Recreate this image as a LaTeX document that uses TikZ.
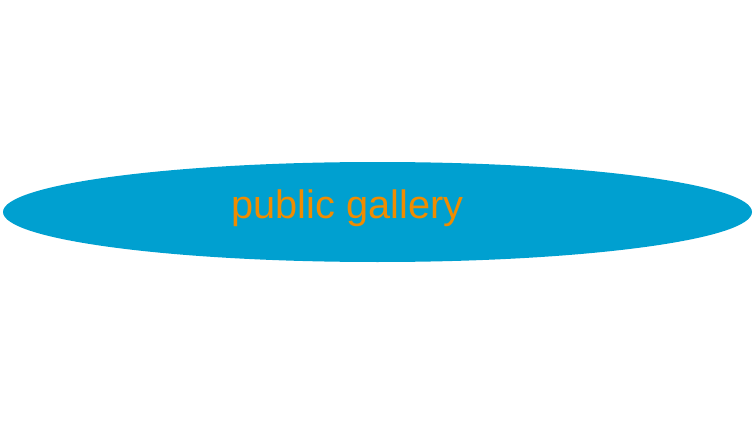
\documentclass[tikz,border=0pt]{standalone}
\usepackage{fontspec}
\setmainfont{Liberation Sans}
\usetikzlibrary{shapes.geometric}
\definecolor{galleryblue}{HTML}{00A0D0}
\definecolor{galleryorange}{HTML}{F08C00}
\begin{document}
\begin{tikzpicture}[x=1pt,y=1pt]
\useasboundingbox (0,0) rectangle (753,424);
\begin{scope}[every node/.style={inner sep=0pt, outer sep=0pt}]
    % the big flat ellipse
    \node[ellipse, fill=galleryblue, minimum width=749pt, minimum height=100pt] (gallery) at (377.5,212) {};
    % its label sits a little left of the centre
    \node[anchor=base, text=galleryorange, font=\fontsize{39.7}{42}\selectfont] (gallerylabel) at (347.5,206) {public gallery};
\end{scope}
\end{tikzpicture}
\end{document}
